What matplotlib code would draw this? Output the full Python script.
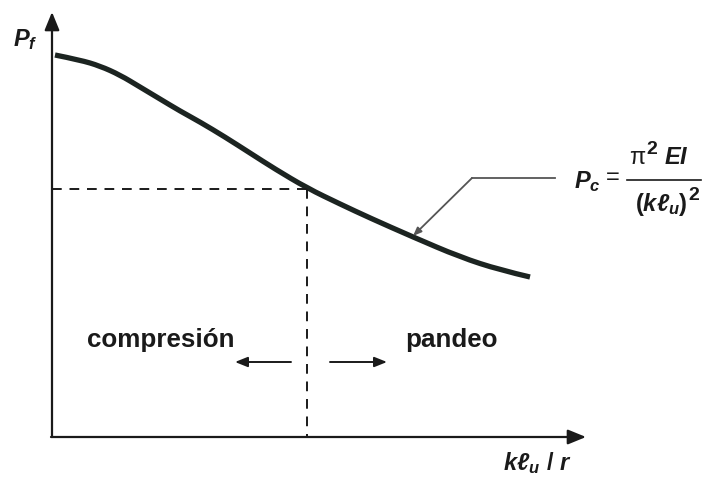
import numpy as np
import matplotlib.pyplot as plt
from matplotlib.path import Path
from matplotlib.patches import PathPatch

plt.rcParams['font.family'] = ['Liberation Sans', 'DejaVu Sans']
plt.rcParams['mathtext.fontset'] = 'custom'
plt.rcParams['mathtext.it'] = 'Liberation Sans:italic:bold'
plt.rcParams['mathtext.rm'] = 'Liberation Sans:bold'

# curve (figure pixel units, y downward)
curve_x = [55, 80, 100, 120, 140, 160, 180, 200, 225, 250, 275, 307, 340, 370, 413, 460, 500, 530]
curve_y = [55, 60, 66, 75, 87, 99, 111, 122, 137, 153, 169, 188, 204, 218, 237, 257, 270, 277]

# axes corner, tips
origin = (52, 437)
y_tip = 12
x_tip = 586

# critical point
crit_x, crit_y = 307, 189

# leader to the curve
leader_x = [555, 472, 413]
leader_y = [178, 178, 236]

fig = plt.figure(figsize=(7.02, 4.78), dpi=100)
ax = fig.add_axes([0, 0, 1, 1])
ax.set_xlim(0, 702)
ax.set_ylim(478, 0)
ax.axis('off')

ink = '#1a1a1a'

# axes with arrow heads
ax.annotate('', xy=(origin[0], y_tip), xytext=(origin[0], origin[1]),
            arrowprops=dict(arrowstyle='-|>,head_length=1.1,head_width=0.45',
                            lw=1.6, color=ink, shrinkA=0, shrinkB=0))
ax.annotate('', xy=(x_tip, origin[1]), xytext=(origin[0] - 1, origin[1]),
            arrowprops=dict(arrowstyle='-|>,head_length=1.1,head_width=0.45',
                            lw=1.6, color=ink, shrinkA=0, shrinkB=0))

# curve: quadratic b-spline through the read points
pts = np.column_stack([curve_x, curve_y]).astype(float)
verts = [pts[0]]
codes = [Path.MOVETO]
for i in range(1, len(pts) - 1):
    mid = (pts[i] + pts[i + 1]) / 2
    if i == len(pts) - 2:
        mid = pts[i + 1]
    verts += [pts[i], mid]
    codes += [Path.CURVE3, Path.CURVE3]
ax.add_patch(PathPatch(Path(verts, codes), facecolor='none', edgecolor='#1c2421',
                       lw=3.8, capstyle='butt', joinstyle='round'))

# dashed guides
ax.plot([origin[0], crit_x], [crit_y, crit_y], color=ink, lw=1.4, ls=(0, (5, 4)))
ax.plot([crit_x, crit_x], [crit_y, origin[1]], color=ink, lw=1.4, ls=(0, (5, 4)))

# leader line with small arrow
ax.plot(leader_x[:2], leader_y[:2], color='#555555', lw=1.3)
ax.annotate('', xy=(leader_x[2], leader_y[2]), xytext=(leader_x[1], leader_y[1]),
            arrowprops=dict(arrowstyle='-|>,head_length=0.5,head_width=0.2',
                            lw=1.3, color='#555555', shrinkA=0, shrinkB=0))

# region arrows
ax.annotate('', xy=(235, 362), xytext=(291, 362),
            arrowprops=dict(arrowstyle='-|>,head_length=0.75,head_width=0.3',
                            lw=1.4, color=ink, shrinkA=0, shrinkB=0))
ax.annotate('', xy=(387, 362), xytext=(330, 362),
            arrowprops=dict(arrowstyle='-|>,head_length=0.75,head_width=0.3',
                            lw=1.4, color=ink, shrinkA=0, shrinkB=0))

ax.text(161, 340, 'compresión', fontsize=18.7, fontweight='bold', color=ink,
        ha='center', va='center')
ax.text(451, 340, 'pandeo', fontsize=18.7, fontweight='bold', color=ink,
        ha='center', va='center')

# axis labels
ax.text(25, 40, r'$P_f$', fontsize=17, color=ink, ha='center', va='center')
ax.text(537, 463, r'$k\ell_u\ /\ r$', fontsize=17, color=ink, ha='center', va='center')

# formula
ax.text(587, 182, r'$P_c$', fontsize=17, color=ink, ha='center', va='center')
ax.text(613, 178, '=', fontsize=17, color=ink, ha='center', va='center')
ax.plot([627, 701], [180, 180], color=ink, lw=1.2)
ax.text(637, 158, 'π', fontsize=17, color=ink, ha='center', va='center')
ax.text(652, 150, '2', fontsize=14, fontweight='bold', color=ink, ha='center', va='center')
ax.text(676, 158, r'$EI$', fontsize=17, color=ink, ha='center', va='center')
ax.text(661, 205, r'$(k\ell_u)$', fontsize=17, color=ink, ha='center', va='center')
ax.text(694, 196, '2', fontsize=14, fontweight='bold', color=ink, ha='center', va='center')

fig.savefig('out.png', dpi=100)
